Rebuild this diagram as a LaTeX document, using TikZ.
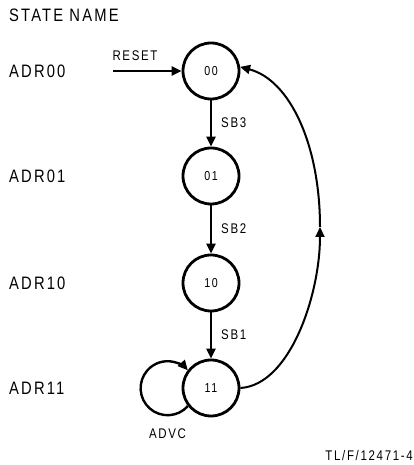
\documentclass[tikz,border=0pt]{standalone}
\usepackage{fontspec}
\newfontfamily\lblfont[FakeStretch=0.82,LetterSpace=12]{Liberation Sans}
\usetikzlibrary{arrows.meta}
\begin{document}
\begin{tikzpicture}[x=1pt,y=1pt,
  state/.style={circle,draw,line width=2.8pt,minimum size=56pt,inner sep=0pt,font=\lblfont\fontsize{13}{13}\selectfont},
  big/.style={anchor=west,inner sep=0pt,font=\lblfont\fontsize{18}{18}\selectfont},
  small/.style={inner sep=0pt,font=\lblfont\fontsize{14}{14}\selectfont},
  tip/.style={-{Triangle[length=10pt,width=9pt]}},
  trans/.style={tip,line width=2.4pt}]
\useasboundingbox (0,0) rectangle (414,465);
% state names
\node[big] (title) at (9,450) {STATE NAME};
\node[big] (n00) at (9,394) {ADR00};
\node[big] (n01) at (9,289) {ADR01};
\node[big] (n10) at (9,182) {ADR10};
\node[big] (n11) at (9,77) {ADR11};
% states
\node[state] (s00) at (211,394) {00};
\node[state] (s01) at (211,289) {01};
\node[state] (s10) at (211,182) {10};
\node[state] (s11) at (211,77) {11};
% reset
\coordinate (r0) at (113,394);
\node[small] (reset) at (135,409) {RESET};
\draw[trans] (r0) -- (s00);
% transitions
\draw[trans] (s00) -- (s01);
\draw[trans] (s01) -- (s10);
\draw[trans] (s10) -- (s11);
\node[small,anchor=west] (sb3) at (221,342) {SB3};
\node[small,anchor=west] (sb2) at (221,236) {SB2};
\node[small,anchor=west] (sb1) at (221,130) {SB1};
% self loop
\draw[tip,line width=2.4pt] (s11.218) arc[start angle=-41.5,end angle=-318.5,radius=27];
\node[small] (advc) at (167.5,31) {ADVC};
% return arc
\coordinate (m) at (320,238);
\draw[tip,line width=2pt] (s11.east) .. controls (290,80) and (320,170) .. (m);
\draw[tip,line width=2pt] (m) .. controls (320,320) and (290,385) .. (s00.8);
\node[small,anchor=east] (tl) at (413,10) {TL/F/12471-4};
\end{tikzpicture}
\end{document}
